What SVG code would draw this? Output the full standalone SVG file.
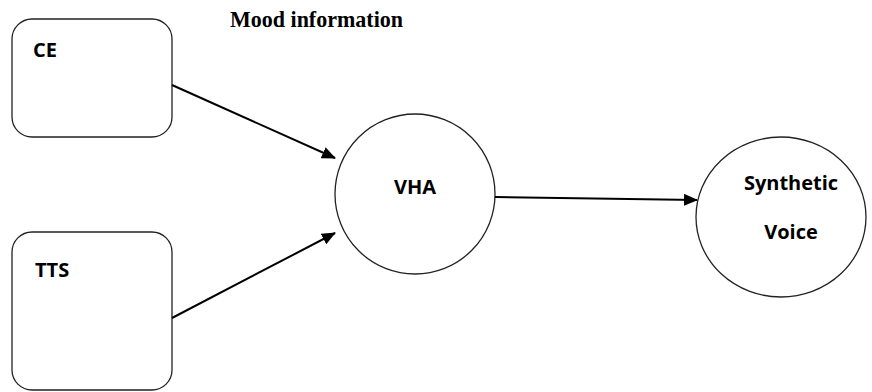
<svg xmlns="http://www.w3.org/2000/svg" width="872" height="392" viewBox="0 0 872 392">
<defs>
<style>
.node{fill:#fff;stroke:#222;stroke-width:1.3}
.lbl{font-family:"Open Sans","Noto Sans","DejaVu Sans",sans-serif;font-weight:bold;font-size:20px;fill:#000}
.edge{stroke:#000;stroke-width:2;fill:none}
.title{font-family:"Liberation Serif","Times New Roman",serif;font-weight:bold;font-size:23px;fill:#000}
</style>
<marker id="ah" markerWidth="14" markerHeight="12" refX="13" refY="6" orient="auto" markerUnits="userSpaceOnUse">
<path d="M0,0 L14,6 L0,12 Z" fill="#000"/>
</marker>
</defs>
<rect width="872" height="392" fill="#fff"/>
<text class="title" x="230" y="27" textLength="173" lengthAdjust="spacingAndGlyphs">Mood information</text>
<g id="CE">
<rect class="node" x="12" y="19" width="160" height="118" rx="20"/>
<text class="lbl" x="33" y="57">CE</text>
</g>
<g id="TTS">
<rect class="node" x="12" y="232" width="160" height="158" rx="20"/>
<text class="lbl" x="35" y="277">TTS</text>
</g>
<g id="VHA">
<circle class="node" cx="415" cy="194" r="80"/>
<text class="lbl" x="415" y="194" text-anchor="middle">VHA</text>
</g>
<g id="SyntheticVoice">
<ellipse class="node" cx="781" cy="217" rx="85" ry="80"/>
<text class="lbl" x="791" y="190" text-anchor="middle">Synthetic</text>
<text class="lbl" x="791" y="239" text-anchor="middle">Voice</text>
</g>
<g id="connectors">
<line class="edge" x1="172" y1="85" x2="335" y2="158" marker-end="url(#ah)"/>
<line class="edge" x1="172" y1="318" x2="335" y2="233" marker-end="url(#ah)"/>
<line class="edge" x1="495" y1="197" x2="697" y2="200" marker-end="url(#ah)"/>
</g>
</svg>
